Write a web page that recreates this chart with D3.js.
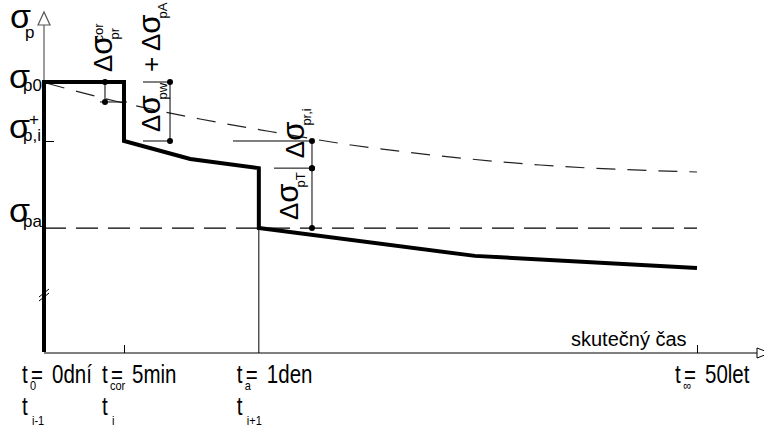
<!DOCTYPE html>
<html>
<head>
<meta charset="utf-8">
<script src="https://cdn.jsdelivr.net/npm/d3@7"></script>
<style>
body{margin:0;background:#fff;}
text{font-family:"Liberation Sans",Arial,sans-serif;fill:#000;}
</style>
</head>
<body>
<div id="chart"></div>
<script>
// schematic units: time 0..100 (t0 .. t_inf), stress 0..100 (0 .. sigma_p0)
const timeTicks = [0, 12.25, 32.9, 100];
const tickSub = ["0", "cor", "a", "∞"];
const tickValue = ["0dní", "5min", "1den", "50let"];
const stepSub = ["i-1", "i", "i+1", null];

const stressLevels = [100, 78.15, 45.9];
const stressSub = ["p0", "p,i", "pa"];
const stressSup = ["", "+", ""];

// real prestress (thick line)
const realT = [0, 0, 12.25, 12.25, 22.4, 32.9, 32.9, 66, 100];
const realS = [0, 100, 100, 78.15, 71.5, 68.1, 45.9, 35.6, 31.1];

// prestress without immediate losses (dashed curve)
const curveT = [0.31, 10.87, 23.89, 34.61, 47.01, 56.05, 75.96, 100];
const curveS = [99.63, 92.96, 86.3, 81.67, 76.67, 73.89, 69.26, 66.67];

// dimension lines (losses)
const dimT = [9.34, 19.3, 41.04, 41.04];
const dimFrom = [100, 100, 78.15, 68.1];
const dimTo = [92.6, 78.15, 68.1, 45.9];

const W = 764, H = 426;
let svg = d3.select("#chart").append("svg")
    .attr("width", W).attr("height", H);

let x = d3.scaleLinear().domain([0, 100]).range([44, 697]);
let y = d3.scaleLinear().domain([0, 100]).range([352, 82]);

// y axis (gray with open arrow)
svg.append("line")
   .attr("x1", x(0)).attr("x2", x(0))
   .attr("y1", 25).attr("y2", y(0))
   .attr("stroke", "#7a7a7a").attr("stroke-width", 1.5);
svg.append("path")
   .attr("d", "M" + (x(0) - 6) + ",25L" + x(0) + ",12L" + (x(0) + 6) + ",25Z")
   .attr("fill", "#fff").attr("stroke", "#555").attr("stroke-width", 1.2);

// x axis
let axisY = y(0) + 1;
svg.append("line")
   .attr("x1", x(0)).attr("x2", 760)
   .attr("y1", axisY).attr("y2", axisY)
   .attr("stroke", "#000").attr("stroke-width", 1.2);
svg.append("path")
   .attr("d", "M757," + (axisY - 5) + "L770," + axisY + "L757," + (axisY + 5) + "Z")
   .attr("fill", "#fff").attr("stroke", "#000").attr("stroke-width", 1);

let xAxis = d3.axisBottom(x)
    .tickValues([timeTicks[1], timeTicks[3]])
    .tickSize(-8).tickFormat("");
svg.append("g")
   .attr("transform", "translate(0," + axisY + ")")
   .call(xAxis)
   .call(g => g.select(".domain").remove())
   .selectAll("line").attr("stroke", "#000");

let yAxis = d3.axisLeft(y)
    .tickValues([stressLevels[1]])
    .tickSize(-10).tickFormat("");
svg.append("g")
   .attr("transform", "translate(" + x(0) + ",0)")
   .call(yAxis)
   .call(g => g.select(".domain").remove())
   .selectAll("line").attr("stroke", "#000");

// t_a vertical
svg.append("line")
   .attr("x1", x(timeTicks[2])).attr("x2", x(timeTicks[2]))
   .attr("y1", y(stressLevels[2])).attr("y2", axisY)
   .attr("stroke", "#000").attr("stroke-width", 1);

// sigma_pa dashed
svg.append("line")
   .attr("x1", x(0)).attr("x2", x(100))
   .attr("y1", y(stressLevels[2])).attr("y2", y(stressLevels[2]))
   .attr("stroke", "#000").attr("stroke-width", 1.2)
   .attr("stroke-dasharray", "22,10");

// dashed curve
let curveLine = d3.line()
    .x((d, i) => x(curveT[i]))
    .y(d => y(d))
    .curve(d3.curveMonotoneX);
svg.append("path")
   .attr("d", curveLine(curveS))
   .attr("fill", "none").attr("stroke", "#222")
   .attr("stroke-width", 1.2)
   .attr("stroke-dasharray", "19,12");

// dimension lines
let dimG = svg.append("g").attr("stroke", "#000").attr("stroke-width", 1);
let ext = [[-5, 22, 1], [-27, 0, 0], [-79, 0, 0], [-38, 0, 1]];
dimT.forEach(function(t, i) {
    dimG.append("line")
        .attr("x1", x(t)).attr("x2", x(t))
        .attr("y1", y(dimFrom[i])).attr("y2", y(dimTo[i]));
});
// extension lines
dimG.append("line").attr("x1", x(dimT[0]) - 5).attr("x2", x(dimT[0]) + 22)
    .attr("y1", y(dimTo[0])).attr("y2", y(dimTo[0]));
dimG.append("line").attr("x1", x(dimT[1]) - 27).attr("x2", x(dimT[1]))
    .attr("y1", y(dimFrom[1])).attr("y2", y(dimFrom[1]));
dimG.append("line").attr("x1", x(dimT[1]) - 27).attr("x2", x(dimT[1]))
    .attr("y1", y(dimTo[1])).attr("y2", y(dimTo[1]));
dimG.append("line").attr("x1", x(dimT[2]) - 79).attr("x2", x(dimT[2]))
    .attr("y1", y(dimFrom[2])).attr("y2", y(dimFrom[2]));
dimG.append("line").attr("x1", x(dimT[3]) - 38).attr("x2", x(dimT[3]))
    .attr("y1", y(dimFrom[3])).attr("y2", y(dimFrom[3]));

// thick real stress line
let realLine = d3.line()
    .x((d, i) => x(realT[i]))
    .y(d => y(d));
svg.append("path")
   .attr("d", realLine(realS))
   .attr("fill", "none").attr("stroke", "#000")
   .attr("stroke-width", 4).attr("stroke-linejoin", "miter");

// break mark
[0, 4].forEach(function(o) {
    svg.append("line")
       .attr("x1", x(0) - 5).attr("y1", 297 + o)
       .attr("x2", x(0) + 5).attr("y2", 289 + o)
       .attr("stroke", "#000").attr("stroke-width", 1);
});

// dots
let dots = [];
dimT.forEach(function(t, i) {
    dots.push([t, dimFrom[i]]);
    dots.push([t, dimTo[i]]);
});
svg.selectAll("circle.dot")
   .data(dots)
   .enter()
   .append("circle")
   .attr("class", "dot")
   .attr("cx", d => x(d[0]))
   .attr("cy", d => y(d[1]))
   .attr("r", 3)
   .attr("fill", "#000");

// ---- text ----
function txt(g, px, py, s, size, sy) {
    return g.append("text")
        .attr("transform", "translate(" + px + "," + py + ") scale(1," + (sy || 1) + ")")
        .attr("font-size", size)
        .text(s);
}

// left stress labels
let leftG = svg.append("g");
txt(leftG, 10, 28, "σ", 34);
txt(leftG, 25, 38, "p", 17);
let sigDy = [6, -3, -6];
let subDy = [9, 0, -1];
stressLevels.forEach(function(v, i) {
    let yy = y(v);
    txt(leftG, 9, yy + sigDy[i], "σ", 34);
    txt(leftG, 23, yy + subDy[i], stressSub[i], 17);
    if (stressSup[i]) txt(leftG, 29, yy - 16, stressSup[i], 17);
});

// bottom time labels
let botG = svg.append("g");
timeTicks.forEach(function(t, i) {
    let xt = x(t) - 22;
    txt(botG, xt, 383, "t", 20.5, 1.22);
    txt(botG, xt + 8, 390, tickSub[i], 11, 1.2);
    txt(botG, xt + 9, 383, "=", 20.5, 1.22);
    txt(botG, xt + 30, 383, tickValue[i], 20.5, 1.22);
    if (stepSub[i]) {
        txt(botG, xt, 415, "t", 20.5, 1.22);
        txt(botG, xt + 10, 425, stepSub[i], 11, 1.2);
    }
});

txt(svg, 571, 346, "skutečný čas", 20);

// rotated delta labels
function deltaLabel(bx, by, sub, sup, prefix) {
    let g = svg.append("g")
        .attr("transform", "translate(" + bx + "," + by + ") rotate(-90)");
    let t = g.append("text").attr("x", 0).attr("y", 0);
    if (prefix) t.append("tspan").attr("font-size", 26).text(prefix);
    t.append("tspan").attr("font-size", 26).text("Δ");
    t.append("tspan").attr("font-size", 31).text("σ");
    let len = t.node().getComputedTextLength();
    g.append("text").attr("x", len - 4).attr("y", 7)
     .attr("font-size", 13).text(sub);
    if (sup) g.append("text").attr("x", len - 6).attr("y", -9)
              .attr("font-size", 13).text(sup);
}
deltaLabel(x(dimT[0]) + 7, y(100) - 10, "pr", "cor");
deltaLabel(x(dimT[1]) - 10, y(dimTo[1]) - 9, "pw");
deltaLabel(x(dimT[1]) - 10, y(100) - 10, "pA", null, "+ ");
deltaLabel(x(dimT[2]) - 8, y(dimTo[2]) - 10, "pr,i");
deltaLabel(x(dimT[3]) - 14, y(dimTo[3]) - 8, "pT");
</script>
</body>
</html>
